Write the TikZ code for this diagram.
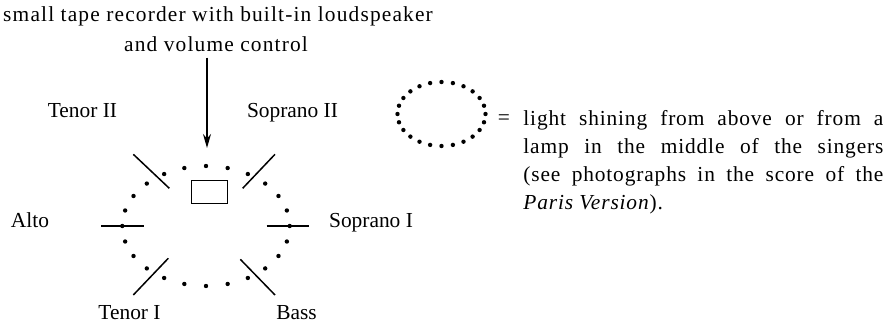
\documentclass[tikz,border=0pt]{standalone}
\usepackage{fontspec}
\setmainfont{Liberation Serif}
\usetikzlibrary{arrows.meta, positioning}

\begin{document}
\begin{tikzpicture}[
    x=0.5pt, y=-0.5pt,
    label/.style={anchor=base, inner sep=0pt, font=\fontsize{10.7}{12}\selectfont},
    caption/.style={label, font=\fontsize{10.7}{12}\selectfont\addfontfeature{LetterSpace=5.4}},
    singer/.style={line width=0.75pt},
    lightdot/.style={fill=black},
    arrow/.style={-{Stealth[length=7pt, width=4pt]}, line width=0.8pt}
]
    \useasboundingbox (0,0) rectangle (889,325);

    % tape recorder and its arrow
    \node[caption] (recorder) at (218,22) {small tape recorder with built-in loudspeaker};
    \node[caption] (volume) at (216,52) {and volume control};
    \coordinate (tip) at (207,148);
    \draw[arrow] (volume.south -| tip) ++(0,5) -- (tip);
    \node[draw, line width=0.5pt, minimum width=18pt, minimum height=11.5pt, inner sep=0pt] (tape) at (209,192.5) {};

    % ring of light
    \coordinate (ring) at (206,226);
    \foreach \a in {0,15,...,345}
        \fill[lightdot] (ring) ++(\a:83.7 and 60) circle[radius=1.1pt];

    % singers
    \draw[singer] (133.3,154.3) -- (169.3,188.3);
    \draw[singer] (275,154.3) -- (242.7,188.3);
    \draw[singer] (101,226) -- (144,226);
    \draw[singer] (266.7,226) -- (309.3,226);
    \draw[singer] (168.3,258.3) -- (133.3,295);
    \draw[singer] (240.3,259.3) -- (275,295);

    \node[label] (tenorii) at (82.5,118) {Tenor II};
    \node[label] (sopranoii) at (292.5,118) {Soprano II};
    \node[label] (alto) at (30,228) {Alto};
    \node[label] (sopranoi) at (371,228) {Soprano I};
    \node[label] (tenori) at (129.5,320) {Tenor I};
    \node[label] (bass) at (296.5,320) {Bass};

    % legend
    \coordinate (key) at (441.5,114);
    \foreach \a in {0,15,...,345}
        \fill[lightdot] (key) ++(\a:44 and 32) circle[radius=1.1pt];
    \node[label] (equals) at (504,125) {=};
    \node[anchor=north west, inner sep=0pt, text width=180pt, align=justify,
          font=\fontsize{10.7}{14}\selectfont\addfontfeature{LetterSpace=4}] (legend) at (523,110)
        {light shining from above or from a\linebreak lamp in the middle of the singers\linebreak (see photographs in the score of the\linebreak \textit{Paris Version}).};
\end{tikzpicture}
\end{document}
